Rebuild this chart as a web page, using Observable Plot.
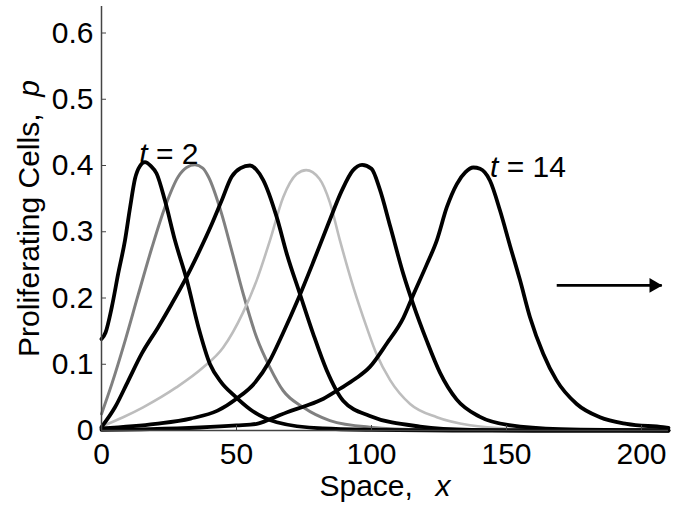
<!DOCTYPE html>
<html>
<head>
<meta charset="utf-8">
<script src="https://cdn.jsdelivr.net/npm/d3@7"></script>
<script src="https://cdn.jsdelivr.net/npm/@observablehq/plot@0.6"></script>
<style>
  html, body { margin: 0; padding: 0; background: #fff; }
  #chart { width: 682px; height: 508px; }
</style>
</head>
<body>
<div id="chart"></div>
<script>
// ---- Data ----
const xTicks = [0, 50, 100, 150, 200];
const yTicks = [0, 0.1, 0.2, 0.3, 0.4, 0.5, 0.6];
const xDomain = [0, 210];
const yDomain = [0, 0.64];

const t2x = [0, 1.5, 3.8, 6.2, 8.7, 10.6, 12.4, 14.2, 16.1, 18.3, 20.4, 23.5, 27.2, 31.6, 35.9, 40.2, 44.5, 48.8, 55, 64.9, 82, 100, 130, 210];
const t2y = [0.138, 0.148, 0.186, 0.237, 0.287, 0.337, 0.380, 0.399, 0.405, 0.399, 0.388, 0.347, 0.287, 0.227, 0.156, 0.100, 0.072, 0.054, 0.032, 0.0125, 0.003, 0.001, 0, 0];

const t4x = [0, 3.8, 8.7, 13.6, 18.6, 23.5, 28.4, 31.5, 34.6, 37.5, 39.6, 44.5, 48.0, 52.5, 57.5, 62.4, 67.3, 74.7, 84.6, 99.4, 120, 150, 210];
const t4y = [0.025, 0.070, 0.135, 0.205, 0.275, 0.337, 0.383, 0.397, 0.401, 0.396, 0.383, 0.327, 0.275, 0.206, 0.140, 0.095, 0.060, 0.035, 0.015, 0.005, 0.001, 0, 0];

const t6x = [0, 5.0, 9.9, 14.9, 21.0, 26.0, 30.9, 35.8, 40.9, 44.5, 48.2, 51.5, 55.0, 57.3, 59.9, 64.9, 68.6, 73.5, 78.4, 83.4, 89.5, 99.4, 118, 137, 160, 210];
const t6y = [0.005, 0.035, 0.075, 0.116, 0.156, 0.191, 0.227, 0.267, 0.312, 0.347, 0.383, 0.396, 0.400, 0.394, 0.378, 0.322, 0.267, 0.206, 0.146, 0.091, 0.045, 0.022, 0.006, 0.001, 0, 0];

const t8x = [0, 8.0, 15.4, 27.7, 37.6, 45.0, 52.4, 57.5, 62.4, 67.3, 72.3, 75.8, 80.7, 84.6, 88.3, 93.3, 98.2, 101.9, 106.9, 114.3, 124.2, 136.5, 155, 180, 210];
const t8y = [0.006, 0.020, 0.035, 0.065, 0.095, 0.125, 0.178, 0.227, 0.287, 0.352, 0.387, 0.393, 0.380, 0.344, 0.287, 0.216, 0.156, 0.115, 0.076, 0.040, 0.020, 0.008, 0.002, 0, 0];

const t10x = [0, 20, 33, 43, 50, 57, 62, 67, 73, 78.5, 84, 89, 93, 96.5, 100, 103, 107, 111.8, 115.5, 120.4, 125.4, 131.5, 140, 151, 170, 210];
const t10y = [0.003, 0.010, 0.018, 0.030, 0.048, 0.073, 0.103, 0.145, 0.200, 0.255, 0.312, 0.362, 0.392, 0.401, 0.395, 0.365, 0.307, 0.236, 0.190, 0.136, 0.087, 0.047, 0.021, 0.008, 0.002, 0];

const t14x = [0, 18, 36.5, 50, 57.5, 63, 69, 75.5, 82.2, 88.3, 94, 99.4, 105.6, 111.8, 115.5, 120.4, 124.2, 127.9, 131.6, 134.8, 137.7, 140.2, 143.9, 147.6, 151.3, 155, 158.7, 163.6, 168.5, 176, 184.6, 194.5, 208, 210];
const t14y = [0.001, 0.002, 0.0045, 0.0076, 0.010, 0.018, 0.028, 0.037, 0.048, 0.063, 0.078, 0.096, 0.131, 0.170, 0.205, 0.250, 0.287, 0.337, 0.372, 0.390, 0.397, 0.395, 0.377, 0.332, 0.279, 0.227, 0.171, 0.116, 0.076, 0.040, 0.020, 0.010, 0.005, 0.004];

const labelText = ["t = 2", "t = 14"];
const labelX = [14.0, 143.9];
const labelY = [0.402, 0.383];

const arrowX1 = [168.6];
const arrowX2 = [207.5];
const arrowY = [0.219];

const xLabel = "Space,\u00a0\u00a0\u2009x";
const yLabel = "Proliferating Cells,\u00a0\u00a0p";

// ---- Build ----
const rows = (xs, ys) => xs.map((x, i) => ({x, y: ys[i]}));
const FONT = "'Liberation Sans', Arial, Helvetica, sans-serif";
const FS = 30;

const series = [
  {x: t4x, y: t4y, stroke: "#808080", w: 3},
  {x: t8x, y: t8y, stroke: "#bdbdbd", w: 2.6},
  {x: t2x, y: t2y, stroke: "#000", w: 3.8},
  {x: t6x, y: t6y, stroke: "#000", w: 3.8},
  {x: t10x, y: t10y, stroke: "#000", w: 3.8},
  {x: t14x, y: t14y, stroke: "#000", w: 3.8}
];

const arrowData = arrowX1.map((x1, i) => ({x1, x2: arrowX2[i], y: arrowY[i]}));
const labels = labelText.map((t, i) => ({t, x: labelX[i], y: labelY[i]}));

const plot = Plot.plot({
  width: 682,
  height: 508,
  marginLeft: 101,
  marginRight: 14,
  marginTop: 6,
  marginBottom: 78,
  style: {fontFamily: FONT, fontSize: FS + "px", background: "#fff", color: "#000"},
  x: {domain: xDomain, ticks: xTicks},
  y: {domain: yDomain, ticks: yTicks},
  marks: [
    ...series.map(s => Plot.line(rows(s.x, s.y), {
      x: "x", y: "y", stroke: s.stroke, strokeWidth: s.w, curve: "monotone-x", strokeLinejoin: "round"
    })),
    Plot.ruleX([0], {stroke: "#444", strokeWidth: 1.5}),
    Plot.ruleY([0], {stroke: "#444", strokeWidth: 1.5}),
    Plot.axisX({ticks: xTicks, tickSize: -5, tickPadding: 17, stroke: "#444", label: null, tickFormat: d => String(d)}),
    Plot.axisY({ticks: yTicks, tickSize: -5, tickPadding: 13, stroke: "#444", label: null, tickFormat: d => String(d)}),
    Plot.text([xLabel], {frameAnchor: "bottom", textAnchor: "middle", dy: 65, lineAnchor: "bottom", text: d => d, fontSize: FS}),
    Plot.text([yLabel], {frameAnchor: "left", textAnchor: "middle", dx: -63, rotate: -90, lineAnchor: "bottom", text: d => d, fontSize: FS}),
    Plot.text(labels, {x: "x", y: "y", text: "t", textAnchor: "start", lineAnchor: "bottom", fontSize: FS}),
    Plot.link(arrowData, {x1: "x1", x2: "x2", y1: "y", y2: "y", stroke: "#000", strokeWidth: 2.8}),
    Plot.dot(arrowData, {x: "x2", y: "y", symbol: "triangle", rotate: 90, r: 5.5, fill: "#000", stroke: "none", dx: -8})
  ]
});

// italic variable names as tspans
const NS = "http://www.w3.org/2000/svg";
function styleText(svg, full, parts) {
  svg.querySelectorAll("text").forEach(t => {
    if (t.textContent === full) {
      t.textContent = "";
      parts.forEach(([s, it]) => {
        const ts = document.createElementNS(NS, "tspan");
        ts.textContent = s;
        if (it) ts.setAttribute("font-style", "italic");
        t.appendChild(ts);
      });
    }
  });
}
styleText(plot, xLabel, [["Space,\u00a0\u00a0\u2009", false], ["x", true]]);
styleText(plot, yLabel, [["Proliferating Cells,\u00a0\u00a0", false], ["p", true]]);
styleText(plot, "t = 2", [["t", true], ["\u00a0=\u00a02", false]]);
styleText(plot, "t = 14", [["t", true], ["\u00a0=\u00a014", false]]);

document.getElementById("chart").appendChild(plot);
</script>
</body>
</html>
